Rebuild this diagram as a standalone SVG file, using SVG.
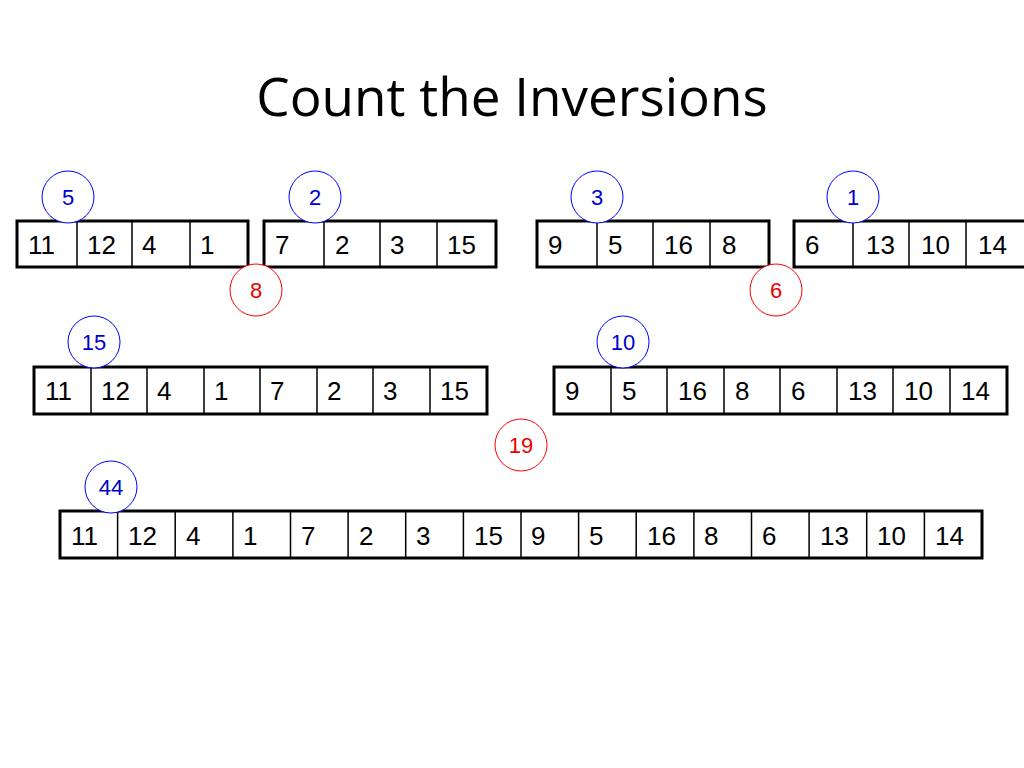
<svg xmlns="http://www.w3.org/2000/svg" width="1024" height="768" viewBox="0 0 1024 768">
<style>
.o{fill:#fff;stroke:#000;stroke-width:3}
.d{stroke:#000;stroke-width:1.5}
.t{font-family:"Liberation Sans",Arial,sans-serif;font-size:26px;fill:#000}
.cb{fill:#fff;stroke:#0000ff;stroke-width:1}
.cr{fill:#fff;stroke:#ff0000;stroke-width:1}
.nb{font-family:"Liberation Sans",Arial,sans-serif;font-size:22px;fill:#0000cc;text-anchor:middle}
.nr{font-family:"Liberation Sans",Arial,sans-serif;font-size:22px;fill:#ee0000;text-anchor:middle}
</style>
<rect width="1024" height="768" fill="#fff"/>
<text x="512" y="116" text-anchor="middle" font-family="Open Sans,Liberation Sans,sans-serif" font-size="53" fill="#000">Count the Inversions</text>

<g id="a1"><rect class="o" x="17" y="221" width="231" height="46"/>
<path class="d" d="M77 221V267M132 221V267M190 221V267"/>
<text class="t" y="254"><tspan x="28">11</tspan><tspan x="87">12</tspan><tspan x="142">4</tspan><tspan x="200">1</tspan></text></g>
<g id="a2"><rect class="o" x="264" y="221" width="232" height="46"/>
<path class="d" d="M324 221V267M380 221V267M437 221V267"/>
<text class="t" y="254"><tspan x="275">7</tspan><tspan x="335">2</tspan><tspan x="390">3</tspan><tspan x="447">15</tspan></text></g>
<g id="a3"><rect class="o" x="537" y="221" width="232" height="46"/>
<path class="d" d="M597 221V267M653 221V267M710 221V267"/>
<text class="t" y="254"><tspan x="548">9</tspan><tspan x="608">5</tspan><tspan x="664">16</tspan><tspan x="722">8</tspan></text></g>
<g id="a4"><rect class="o" x="794" y="221" width="232" height="46"/>
<path class="d" d="M853 221V267M909 221V267M966 221V267"/>
<text class="t" y="254"><tspan x="805">6</tspan><tspan x="866">13</tspan><tspan x="921">10</tspan><tspan x="978">14</tspan></text></g>

<g id="c5"><circle class="cb" cx="68" cy="197" r="26"/><text class="nb" x="68" y="205">5</text></g>
<g id="c2"><circle class="cb" cx="315" cy="197" r="26"/><text class="nb" x="315" y="205">2</text></g>
<g id="c3"><circle class="cb" cx="597" cy="197" r="26"/><text class="nb" x="597" y="205">3</text></g>
<g id="c1"><circle class="cb" cx="853" cy="197" r="26"/><text class="nb" x="853" y="205">1</text></g>
<g id="c8"><circle class="cr" cx="256" cy="290" r="26"/><text class="nr" x="256" y="298">8</text></g>
<g id="c6"><circle class="cr" cx="776" cy="290" r="26"/><text class="nr" x="776" y="298">6</text></g>

<g id="b1"><rect class="o" x="34" y="367" width="453" height="47"/>
<path class="d" d="M91 367V414M147 367V414M204 367V414M260 367V414M317 367V414M373 367V414M430 367V414"/>
<text class="t" y="400"><tspan x="45">11</tspan><tspan x="101">12</tspan><tspan x="157">4</tspan><tspan x="214">1</tspan><tspan x="270">7</tspan><tspan x="327">2</tspan><tspan x="383">3</tspan><tspan x="440">15</tspan></text></g>
<g id="b2"><rect class="o" x="554" y="367" width="453" height="47"/>
<path class="d" d="M611 367V414M667 367V414M724 367V414M780 367V414M837 367V414M893 367V414M950 367V414"/>
<text class="t" y="400"><tspan x="565">9</tspan><tspan x="622">5</tspan><tspan x="678">16</tspan><tspan x="735">8</tspan><tspan x="791">6</tspan><tspan x="848">13</tspan><tspan x="904">10</tspan><tspan x="961">14</tspan></text></g>
<g id="c15"><circle class="cb" cx="94" cy="342" r="26"/><text class="nb" x="94" y="350">15</text></g>
<g id="c10"><circle class="cb" cx="623" cy="342" r="26"/><text class="nb" x="623" y="350">10</text></g>
<g id="c19"><circle class="cr" cx="521" cy="445" r="26"/><text class="nr" x="521" y="453">19</text></g>

<g id="m"><rect class="o" x="60" y="511" width="922" height="47"/>
<path class="d" d="M117.6 511V558M175.2 511V558M232.9 511V558M290.5 511V558M348.1 511V558M405.7 511V558M463.4 511V558M521 511V558M578.6 511V558M636.2 511V558M693.9 511V558M751.5 511V558M809.1 511V558M866.7 511V558M924.4 511V558"/>
<text class="t" y="545"><tspan x="71">11</tspan><tspan x="128">12</tspan><tspan x="186">4</tspan><tspan x="243">1</tspan><tspan x="301">7</tspan><tspan x="359">2</tspan><tspan x="416">3</tspan><tspan x="474">15</tspan><tspan x="531">9</tspan><tspan x="589">5</tspan><tspan x="647">16</tspan><tspan x="704">8</tspan><tspan x="762">6</tspan><tspan x="820">13</tspan><tspan x="877">10</tspan><tspan x="935">14</tspan></text></g>
<g id="c44"><circle class="cb" cx="111" cy="487" r="26"/><text class="nb" x="111" y="495">44</text></g>
</svg>
